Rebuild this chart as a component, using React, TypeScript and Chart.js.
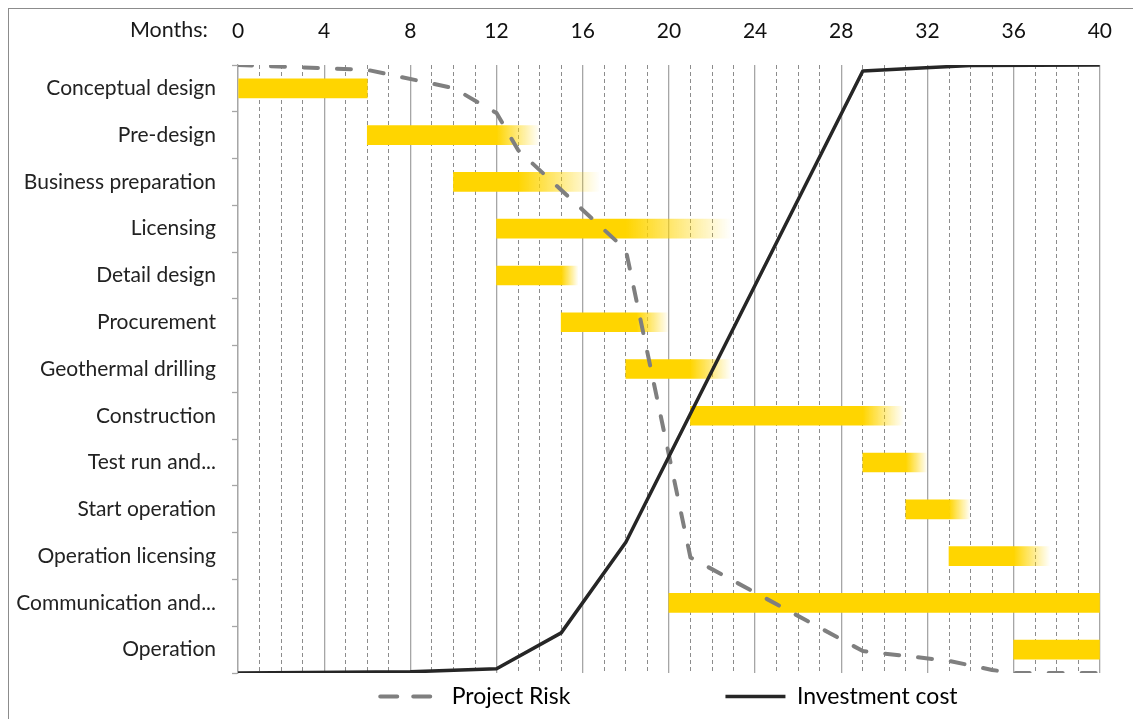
import React, { useEffect, useRef } from 'react';
import { Chart, registerables } from 'chart.js';

Chart.register(...registerables);

// ---- data ----
const tasks = [
  'Conceptual design',
  'Pre-design',
  'Business preparation',
  'Licensing',
  'Detail design',
  'Procurement',
  'Geothermal drilling',
  'Construction',
  'Test run and...',
  'Start operation',
  'Operation licensing',
  'Communication and...',
  'Operation',
];
const taskStart = [0, 6, 10, 12, 12, 15, 18, 21, 29, 31, 33, 20, 36];
const taskEnd = [6, 14, 16.8, 22.9, 15.8, 20, 22.9, 30.9, 32, 34, 37.7, 40, 40];
const fadeFrom = [6, 12, 13, 18, 15, 18.5, 21, 29, 31, 33, 36, 40, 40];

const riskLabel = 'Project Risk';
const riskMonths = [0, 6, 10, 12, 13, 18, 21, 29, 33, 35, 36, 40];
const riskValues = [1, 0.992, 0.962, 0.921, 0.86, 0.696, 0.19, 0.036, 0.02, 0.005, 0, 0];

const costLabel = 'Investment cost';
const costMonths = [0, 8, 12, 15, 18, 29, 31, 34, 40];
const costValues = [0, 0.002, 0.007, 0.066, 0.215, 0.99, 0.994, 0.999, 1];

const monthTicks = [0, 4, 8, 12, 16, 20, 24, 28, 32, 36, 40];
const axisTitle = 'Months:';

const YELLOW = 'rgb(255,213,0)';
const YELLOW_0 = 'rgba(255,213,0,0)';
const RISK_COLOR = '#7f7f7f';
const COST_COLOR = '#262626';
const GRID_MAJOR = '#a6a6a6';
const GRID_MINOR = '#8c8c8c';
const FONT = 'Lato';

const monthsTitlePlugin = {
  id: 'monthsTitle',
  afterDraw(chart: any) {
    const xs = chart.scales.x;
    const ctx = chart.ctx;
    ctx.save();
    ctx.font = `21.5px ${FONT}`;
    ctx.fillStyle = '#1a1a1a';
    ctx.textAlign = 'right';
    ctx.textBaseline = 'middle';
    ctx.fillText(axisTitle, xs.left - 30, 30);
    ctx.restore();
  },
};

export default function App() {
  const ref = useRef<HTMLCanvasElement | null>(null);

  useEffect(() => {
    const canvas = ref.current;
    if (!canvas) return;

    const barFill = (c: any) => {
      const chart = c.chart;
      const xs = chart.scales && chart.scales.x;
      const i = c.dataIndex;
      if (!xs || i === undefined || !chart.chartArea) return YELLOW;
      if (fadeFrom[i] >= taskEnd[i]) return YELLOW;
      const x0 = xs.getPixelForValue(fadeFrom[i]);
      const x1 = xs.getPixelForValue(taskEnd[i]);
      const g = chart.ctx.createLinearGradient(x0, 0, x1, 0);
      g.addColorStop(0, YELLOW);
      g.addColorStop(1, YELLOW_0);
      return g;
    };

    const spacer = {
      text: '',
      fillStyle: 'rgba(0,0,0,0)',
      strokeStyle: 'rgba(0,0,0,0)',
      lineWidth: 0,
      pointStyle: 'line',
      hidden: false,
    };

    const chart = new Chart(canvas, {
      type: 'bar',
      data: {
        labels: tasks,
        datasets: [
          {
            type: 'line',
            label: costLabel,
            indexAxis: 'x',
            xAxisID: 'x',
            yAxisID: 'y2',
            data: costMonths.map((m, i) => ({ x: m, y: costValues[i] })),
            borderColor: COST_COLOR,
            borderWidth: 3.5,
            borderJoinStyle: 'round',
            pointRadius: 0,
            tension: 0,
            fill: false,
          } as any,
          {
            type: 'line',
            label: riskLabel,
            indexAxis: 'x',
            xAxisID: 'x',
            yAxisID: 'y2',
            data: riskMonths.map((m, i) => ({ x: m, y: riskValues[i] })),
            borderColor: RISK_COLOR,
            borderWidth: 4,
            borderDash: [14, 19],
            borderCapStyle: 'round',
            borderJoinStyle: 'round',
            pointRadius: 0,
            tension: 0,
            fill: false,
          } as any,
          {
            type: 'bar',
            label: 'Tasks',
            indexAxis: 'y',
            xAxisID: 'x',
            yAxisID: 'y',
            grouped: false,
            data: taskStart.map((s, i) => [s, taskEnd[i]]),
            backgroundColor: barFill,
            borderWidth: 0,
            borderSkipped: false,
            barThickness: 19,
          } as any,
        ],
      },
      options: {
        indexAxis: 'y',
        responsive: false,
        animation: false,
        events: [],
        layout: { padding: { left: 0, right: 31, top: 0, bottom: 0 } },
        font: { family: FONT },
        scales: {
          x: {
            type: 'linear',
            position: 'top',
            min: 0,
            max: 40,
            offset: false,
            ticks: {
              stepSize: 4,
              padding: 21,
              color: '#111',
              font: { family: FONT, size: 21 },
              callback: (v: any) => (monthTicks.includes(Number(v)) ? String(v) : null),
            },
            grid: { color: GRID_MAJOR, lineWidth: 1.3, drawTicks: false },
            border: { display: false },
            afterFit: (s: any) => {
              s.height = 65;
            },
          },
          xMinor: {
            type: 'linear',
            axis: 'x',
            position: 'bottom',
            min: 0,
            max: 40,
            offset: false,
            ticks: { display: false, stepSize: 1 },
            grid: {
              color: (c: any) =>
                c.tick && Number(c.tick.value) % 4 === 0 ? 'rgba(0,0,0,0)' : GRID_MINOR,
              lineWidth: 1,
              drawTicks: false,
            },
            border: { display: false, dash: [4, 3] },
            afterFit: (s: any) => {
              s.height = 8;
            },
          },
          y: {
            type: 'category',
            position: 'left',
            offset: true,
            ticks: { padding: 16, color: '#222', font: { family: FONT, size: 21 } },
            grid: {
              drawOnChartArea: false,
              drawTicks: true,
              tickLength: 6,
              tickColor: GRID_MAJOR,
              tickWidth: 1.3,
              offset: true,
            },
            border: { display: true, color: GRID_MAJOR, width: 1.3 },
            afterFit: (s: any) => {
              s.width = 238;
            },
          },
          y2: {
            type: 'linear',
            axis: 'y',
            position: 'right',
            display: false,
            min: 0,
            max: 1,
            offset: false,
          },
        } as any,
        plugins: {
          tooltip: { enabled: false },
          legend: {
            display: true,
            position: 'bottom',
            fullSize: false,
            align: 'center',
            labels: {
              usePointStyle: true,
              pointStyleWidth: 60,
              boxHeight: 23,
              padding: 4,
              color: '#1a1a1a',
              font: { family: FONT, size: 23 },
              generateLabels: () => [
                {
                  text: riskLabel,
                  fillStyle: 'rgba(0,0,0,0)',
                  strokeStyle: RISK_COLOR,
                  lineWidth: 4,
                  lineDash: [17, 16],
                  lineCap: 'round',
                  pointStyle: 'line',
                  hidden: false,
                  datasetIndex: 1,
                },
                { ...spacer },
                { ...spacer },
                {
                  text: costLabel,
                  fillStyle: 'rgba(0,0,0,0)',
                  strokeStyle: COST_COLOR,
                  lineWidth: 3.5,
                  lineCap: 'butt',
                  pointStyle: 'line',
                  hidden: false,
                  datasetIndex: 0,
                },
              ] as any,
            },
          },
        },
      } as any,
      plugins: [monthsTitlePlugin],
    });

    return () => {
      chart.destroy();
    };
  }, []);

  return (
    <div
      style={{
        position: 'fixed',
        left: 0,
        top: 0,
        width: 1133,
        height: 719,
        overflow: 'hidden',
        background: '#ffffff',
      }}
    >
      <div
        style={{
          position: 'absolute',
          left: 8,
          top: 8,
          width: 1200,
          height: 800,
          borderTop: '1px solid #8c8c8c',
          borderLeft: '1px solid #8c8c8c',
        }}
      />
      <canvas
        ref={ref}
        width={1133}
        height={718}
        style={{ position: 'absolute', left: 0, top: 0, display: 'block' }}
      />
    </div>
  );
}
